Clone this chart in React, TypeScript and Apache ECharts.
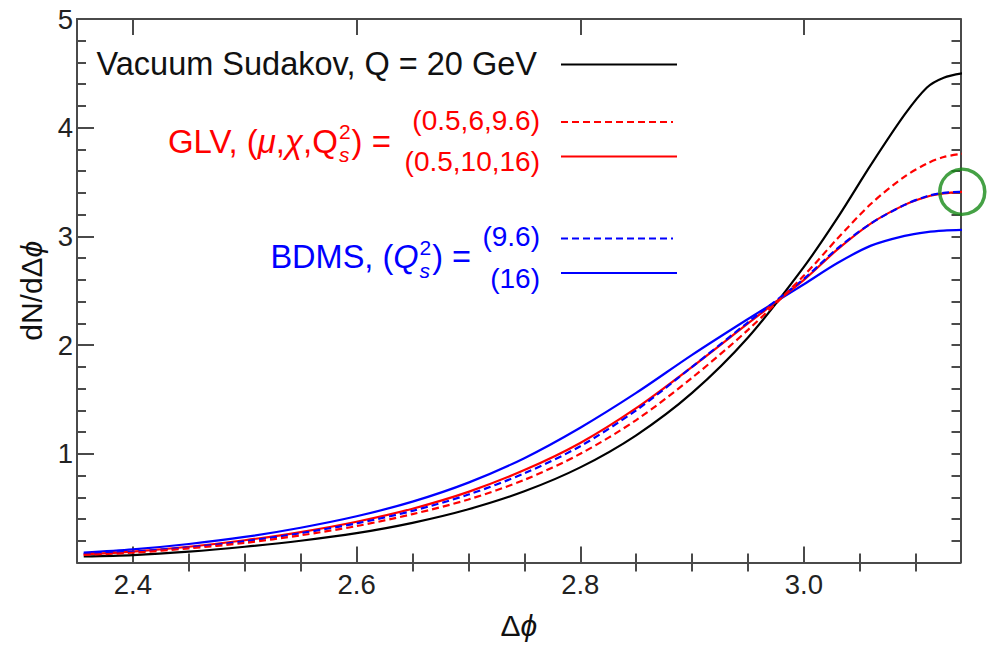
import React, { useEffect, useRef } from "react";
import * as echarts from "echarts";

// ---------------- data ----------------
const deltaPhi = [2.356, 2.4, 2.45, 2.5, 2.55, 2.6, 2.65, 2.7, 2.75, 2.8, 2.85, 2.9, 2.95, 3.0, 3.03, 3.06, 3.09, 3.11, 3.125, 3.1416];
const vacuumSudakov = [0.055, 0.068, 0.1, 0.145, 0.2, 0.27, 0.365, 0.49, 0.655, 0.875, 1.17, 1.56, 2.07, 2.72, 3.17, 3.66, 4.12, 4.37, 4.46, 4.5];
const glv_05_6_96 = [0.07, 0.09, 0.13, 0.18, 0.25, 0.335, 0.445, 0.58, 0.76, 1.0, 1.31, 1.7, 2.14, 2.64, 2.98, 3.3, 3.55, 3.67, 3.73, 3.76];
const glv_05_10_16 = [0.075, 0.1, 0.145, 0.205, 0.28, 0.375, 0.495, 0.65, 0.85, 1.1, 1.42, 1.8, 2.2, 2.6, 2.88, 3.12, 3.29, 3.365, 3.395, 3.41];
const bdms_96 = [0.08, 0.1, 0.14, 0.195, 0.27, 0.36, 0.475, 0.625, 0.82, 1.07, 1.4, 1.8, 2.21, 2.61, 2.89, 3.12, 3.29, 3.37, 3.4, 3.41];
const bdms_16 = [0.09, 0.12, 0.17, 0.235, 0.32, 0.425, 0.56, 0.735, 0.96, 1.24, 1.56, 1.91, 2.24, 2.56, 2.755, 2.915, 3.005, 3.04, 3.054, 3.06];
const highlightPoint = [3.1416, 3.41];

const xMin = 2.35;
const xMax = 3.14;
const xMajorTicks = [2.4, 2.6, 2.8, 3.0];
const xMinorTicks = [2.45, 2.5, 2.55, 2.65, 2.7, 2.75, 2.85, 2.9, 2.95, 3.05, 3.1];
const yMin = 0;
const yMax = 5;

const FONT = '"Liberation Sans", Arial, Helvetica, sans-serif';
const AXIS_COLOR = "#4a4a4a";
const RED = "#ff0000";
const BLUE = "#0000ff";

function measure(text: string, font: string): number {
  const c = document.createElement("canvas").getContext("2d");
  if (!c) return text.length * 10;
  c.font = font;
  return c.measureText(text).width;
}

type Seg = { t?: string; size: number; italic?: boolean; sup?: string; sub?: string };

function composeRight(segs: Seg[], xr: number, yc: number, color: string): any[] {
  const fontOf = (s: Seg, italic?: boolean) => `${italic ? "italic " : ""}${s.size}px ${FONT}`;
  const widths = segs.map((s) => {
    if (s.sup !== undefined) {
      return Math.max(measure(s.sup, fontOf(s)), measure(s.sub || "", fontOf(s, true))) + 2;
    }
    return measure(s.t || "", fontOf(s, s.italic));
  });
  const total = widths.reduce((a, b) => a + b, 0);
  let x = xr - total;
  const els: any[] = [];
  segs.forEach((s, i) => {
    if (s.sup !== undefined) {
      els.push({
        type: "text", x: x + 1, y: yc - 10, silent: true,
        style: { text: s.sup, font: fontOf(s), fill: color, textAlign: "left", textVerticalAlign: "middle" },
      });
      els.push({
        type: "text", x: x + 1, y: yc + 13, silent: true,
        style: { text: s.sub, font: fontOf(s, true), fill: color, textAlign: "left", textVerticalAlign: "middle" },
      });
    } else {
      els.push({
        type: "text", x, y: yc, silent: true,
        style: { text: s.t, font: fontOf(s, s.italic), fill: color, textAlign: "left", textVerticalAlign: "middle" },
      });
    }
    x += widths[i];
  });
  return els;
}

function legendText(text: string, xr: number, yc: number, color: string, size: number) {
  return {
    type: "text", x: xr, y: yc, silent: true,
    style: { text, font: `${size}px ${FONT}`, fill: color, textAlign: "right", textVerticalAlign: "middle" },
  };
}

function legendLine(x1: number, x2: number, y: number, color: string, dashed: boolean) {
  return {
    type: "line", silent: true,
    shape: { x1, y1: y, x2, y2: y },
    style: { stroke: color, lineWidth: 2.2, lineDash: dashed ? [7, 4] : null },
  };
}

export default function App() {
  const ref = useRef<HTMLDivElement>(null);

  useEffect(() => {
    if (!ref.current) return;
    const chart = echarts.init(ref.current, null, { renderer: "svg" });

    const mk = (ys: number[]) => deltaPhi.map((x, i) => [x, ys[i]]);
    const lineSeries = (name: string, ys: number[], color: string, dashed: boolean) => ({
      name,
      type: "line",
      data: mk(ys),
      smooth: 0.3,
      showSymbol: false,
      symbol: "none",
      lineStyle: { color, width: 2.2, type: dashed ? [7, 4] : "solid" },
      z: 3,
    });

    const tickStyle = { color: AXIS_COLOR, width: 2 };
    const labelStyle = { fontFamily: FONT, fontSize: 27.5, color: "#222" };

    const graphics: any[] = [
      legendText("Vacuum Sudakov, Q = 20 GeV", 537, 64, "#111", 32.5),
      legendLine(561, 677, 64.5, "#000", false),
      legendText("(0.5,6,9.6)", 540, 120, RED, 28),
      legendLine(561, 673, 122, RED, true),
      legendText("(0.5,10,16)", 540, 161, RED, 28),
      legendLine(561, 677, 156.5, RED, false),
      ...composeRight(
        [
          { t: "GLV, (", size: 33 },
          { t: "μ", size: 33, italic: true },
          { t: ",", size: 33 },
          { t: "χ", size: 33, italic: true },
          { t: ",Q", size: 33 },
          { sup: "2", sub: "s", size: 21 },
          { t: ") =", size: 33 },
        ],
        391, 141, RED
      ),
      legendText("(9.6)", 540, 236, BLUE, 28),
      legendLine(561, 673, 238.5, BLUE, true),
      legendText("(16)", 540, 278, BLUE, 28),
      legendLine(561, 677, 273, BLUE, false),
      ...composeRight(
        [
          { t: "BDMS, (", size: 32.5 },
          { t: "Q", size: 32.5, italic: true },
          { sup: "2", sub: "s", size: 21 },
          { t: ") =", size: 32.5 },
        ],
        471, 257, BLUE
      ),
    ];

    const option: any = {
      animation: false,
      backgroundColor: "#ffffff",
      grid: { left: 77, right: 30.5, top: 19, bottom: 84.5, containLabel: false },
      xAxis: [
        {
          type: "value", position: "bottom", min: xMin, max: xMax,
          axisLine: { show: true, onZero: false, lineStyle: tickStyle },
          axisTick: { show: true, inside: true, length: 16, customValues: xMajorTicks, lineStyle: tickStyle },
          axisLabel: { show: true, margin: 8, customValues: xMajorTicks, formatter: (v: number) => v.toFixed(1), ...labelStyle },
          splitLine: { show: false },
          name: "Δ{i|ϕ}",
          nameLocation: "middle",
          nameGap: 48,
          nameTextStyle: {
            fontFamily: FONT, fontSize: 30, color: "#111",
            rich: { i: { fontFamily: FONT, fontSize: 30, fontStyle: "italic", color: "#111" } },
          },
        },
        {
          type: "value", position: "bottom", min: xMin, max: xMax,
          axisLine: { show: false },
          axisTick: { show: true, inside: true, length: 9, customValues: xMinorTicks, lineStyle: tickStyle },
          axisLabel: { show: false },
          splitLine: { show: false },
        },
        {
          type: "value", position: "top", min: xMin, max: xMax,
          axisLine: { show: true, onZero: false, lineStyle: tickStyle },
          axisTick: { show: true, inside: true, length: 16, customValues: xMajorTicks, lineStyle: tickStyle },
          axisLabel: { show: false },
          splitLine: { show: false },
        },
        {
          type: "value", position: "top", min: xMin, max: xMax,
          axisLine: { show: false },
          axisTick: { show: true, inside: true, length: 9, customValues: xMinorTicks, lineStyle: tickStyle },
          axisLabel: { show: false },
          splitLine: { show: false },
        },
      ],
      yAxis: [
        {
          type: "value", position: "left", min: yMin, max: yMax, interval: 1,
          axisLine: { show: true, onZero: false, lineStyle: tickStyle },
          axisTick: { show: true, inside: true, length: 17, lineStyle: tickStyle },
          minorTick: { show: true, splitNumber: 5, length: 9, lineStyle: tickStyle },
          axisLabel: { show: true, margin: 4, formatter: (v: number) => (v === 0 ? "" : String(v)), ...labelStyle },
          splitLine: { show: false },
          name: "dN/dΔ{i|ϕ}",
          nameLocation: "middle",
          nameGap: 27,
          nameTextStyle: {
            fontFamily: FONT, fontSize: 30, color: "#111",
            rich: { i: { fontFamily: FONT, fontSize: 30, fontStyle: "italic", color: "#111" } },
          },
        },
        {
          type: "value", position: "right", min: yMin, max: yMax, interval: 0.2,
          axisLine: { show: true, onZero: false, lineStyle: tickStyle },
          axisTick: { show: true, inside: true, length: 9, lineStyle: tickStyle },
          axisLabel: { show: false },
          splitLine: { show: false },
        },
      ],
      series: [
        lineSeries("Vacuum Sudakov, Q = 20 GeV", vacuumSudakov, "#000000", false),
        lineSeries("BDMS (16)", bdms_16, BLUE, false),
        lineSeries("GLV (0.5,10,16)", glv_05_10_16, RED, false),
        lineSeries("BDMS (9.6)", bdms_96, BLUE, true),
        lineSeries("GLV (0.5,6,9.6)", glv_05_6_96, RED, true),
        {
          type: "scatter",
          data: [highlightPoint],
          symbol: "circle",
          symbolSize: 45,
          clip: false,
          silent: true,
          itemStyle: { color: "rgba(0,0,0,0)", borderColor: "#168a16", borderWidth: 3.5 },
          z: 5,
        },
      ],
      graphic: graphics,
    };

    chart.setOption(option);
    return () => chart.dispose();
  }, []);

  return (
    <div
      ref={ref}
      style={{ position: "fixed", left: 0, top: 0, width: 991, height: 647, background: "#fff" }}
    />
  );
}
